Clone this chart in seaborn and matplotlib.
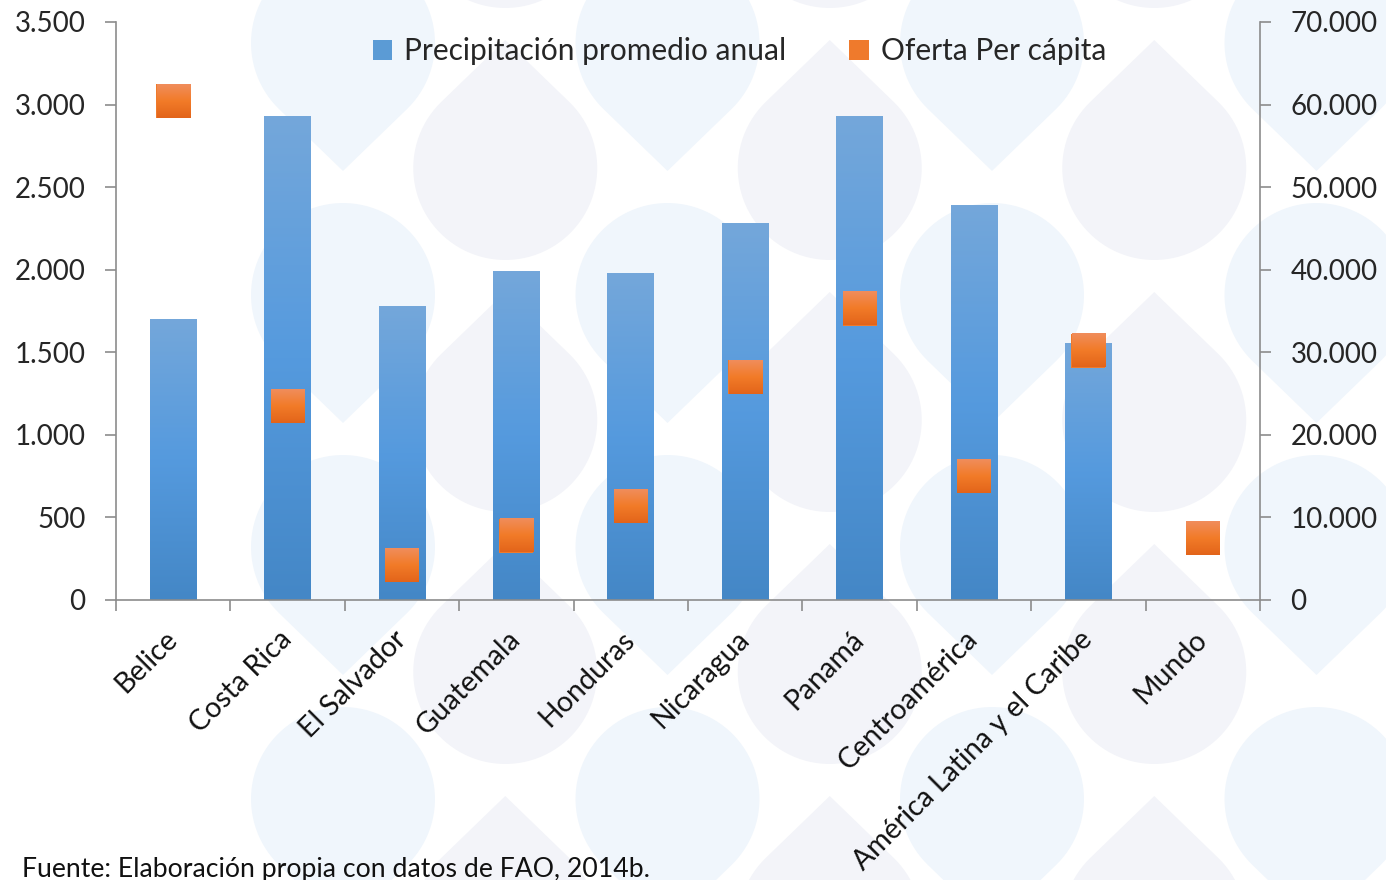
import numpy as np
import matplotlib
matplotlib.use("Agg")
import matplotlib.pyplot as plt
import matplotlib.transforms as mtransforms
import seaborn as sns
import pandas as pd
from matplotlib.colors import LinearSegmentedColormap
from matplotlib.patches import Patch, Polygon

categories = ["Belice", "Costa Rica", "El Salvador", "Guatemala", "Honduras",
              "Nicaragua", "Panamá", "Centroamérica", "América Latina y el Caribe", "Mundo"]
precipitacion = [1700, 2925, 1780, 1990, 1975, 2280, 2925, 2390, 1556, np.nan]
oferta = [60400, 23500, 4200, 7800, 11350, 27000, 35300, 15000, 30200, 7500]
left_ticks = [0, 500, 1000, 1500, 2000, 2500, 3000, 3500]
right_ticks = [0, 10000, 20000, 30000, 40000, 50000, 60000, 70000]

def fmt(v):
    return f"{v:,}".replace(",", ".")

sns.set_theme(style="white")
plt.rcParams["font.family"] = ["Lato", "DejaVu Sans"]
FS = 20
GRAY = "#8c8c8c"
W, H = 1386, 880

df = pd.DataFrame({"cat": categories, "prec": precipitacion, "ofe": oferta})

fig = plt.figure(figsize=(W / 100, H / 100), dpi=100)

# ---- faint water-drop watermark background (decorative lattice) ----
def droplet(cx, cy_img, r, d, up, color):
    cyd = H - cy_img
    phi = np.degrees(np.arccos(r / d))
    base = 90 if up else 270
    ang = np.radians(np.linspace(base + phi, base + 360 - phi, 80))
    pts = [(cx + d * np.cos(np.radians(base)), cyd + d * np.sin(np.radians(base)))]
    pts += list(zip(cx + r * np.cos(ang), cyd + r * np.sin(ang)))
    pts = np.array(pts) / 100.0
    poly = Polygon(pts, closed=True, facecolor=color, edgecolor="none",
                   transform=fig.dpi_scale_trans, zorder=-5)
    fig.add_artist(poly)

R, D, PER_Y, PER_X = 92, 128, 252, 324.5
for k in range(1, 5):
    bx = 18.5 + k * PER_X          # columns of downward drops
    gx = bx + PER_X / 2            # columns of upward drops
    for j in range(-1, 5):
        droplet(bx, 171 + j * PER_Y - D, R, D, up=False, color="#f0f6fc")
        if gx < W + R:
            droplet(gx, 40 + j * PER_Y + D, R, D, up=True, color="#f3f4f9")

ax = fig.add_axes([116 / W, 1 - 600 / H, (1260 - 116) / W, (600 - 22) / H])
ax.set_facecolor("none")

sns.barplot(data=df, x="cat", y="prec", ax=ax, color="#5b9bd5", width=0.41,
            saturation=1, zorder=2)
ax.set_xlim(-0.5, 9.5)
ax.set_ylim(0, 3500)

blue_cmap = LinearSegmentedColormap.from_list("b", ["#4487c6", "#559ade", "#74a7da"])
grad = np.linspace(0, 1, 256).reshape(-1, 1)
for p in ax.patches:
    h = p.get_height()
    if not np.isfinite(h) or h <= 0:
        continue
    x0 = p.get_x(); w = p.get_width()
    ax.imshow(grad, extent=[x0, x0 + w, 0, h], origin="lower", aspect="auto",
              cmap=blue_cmap, zorder=2.1, interpolation="bilinear")
    p.set_facecolor("none"); p.set_edgecolor("none")
ax.set_xlim(-0.5, 9.5)
ax.set_ylim(0, 3500)

ax2 = ax.twinx()
ax2.set_facecolor("none")
MS = 24
sns.scatterplot(x=np.arange(len(categories)), y=oferta, ax=ax2, marker="s",
                s=MS ** 2, color="#ef7a2c", linewidth=0, zorder=3, legend=False)
ax2.set_ylim(0, 70000)
ax2.set_xlim(-0.5, 9.5)

fig.canvas.draw()
half = MS / 2 * fig.dpi / 72
orange_cmap = LinearSegmentedColormap.from_list("o", ["#e2641a", "#f27b28", "#f08d5c"])
inv = ax2.transData.inverted()
for i, v in enumerate(oferta):
    cx, cy = ax2.transData.transform((i, v))
    (x0, y0) = inv.transform((cx - half, cy - half))
    (x1, y1) = inv.transform((cx + half, cy + half))
    ax2.imshow(grad, extent=[x0, x1, y0, y1], origin="lower", aspect="auto",
               cmap=orange_cmap, zorder=4, interpolation="bilinear")
ax2.set_ylim(0, 70000)
ax2.set_xlim(-0.5, 9.5)

# ticks
ax.set_yticks(left_ticks)
ax.set_yticklabels([fmt(t) for t in left_ticks], fontsize=FS)
ax2.set_yticks(right_ticks)
ax2.set_yticklabels([fmt(t) for t in right_ticks], fontsize=FS)
ax.set_xticks(np.arange(-0.5, 10, 1))
ax.set_xticklabels([])
# category labels, rotated, positioned under each category centre
lab_tr = ax.get_xaxis_transform() + mtransforms.ScaledTranslation(
    9 / 100, -26 / 100, fig.dpi_scale_trans)
for i, c in enumerate(categories):
    ax.text(i, 0, c, transform=lab_tr, rotation=45, ha="right", va="top",
            fontsize=20.5, color="#111111", clip_on=False)
ax.tick_params(axis="x", which="major", direction="out", length=8, width=1.2,
               color=GRAY, bottom=True)
ax.tick_params(axis="y", which="major", direction="out", length=8, width=1.2,
               color=GRAY, pad=14, left=True)
ax2.tick_params(axis="y", which="major", direction="out", length=8, width=1.2,
                color=GRAY, pad=14, right=True)
ax.set_xlabel(""); ax.set_ylabel(""); ax2.set_ylabel("")

for a in (ax, ax2):
    for s in a.spines.values():
        s.set_color(GRAY); s.set_linewidth(1.2)
    a.spines["top"].set_visible(False)
ax.spines["right"].set_visible(False)
ax2.spines["left"].set_visible(False)
ax2.spines["bottom"].set_visible(False)

handles = [Patch(facecolor="#5b9bd5", edgecolor="none"),
           Patch(facecolor="#ef7a2c", edgecolor="none")]
ax2.legend(handles, ["Precipitación promedio anual", "Oferta Per cápita"],
           loc="upper center", bbox_to_anchor=(0.545, 1.02), ncol=2, frameon=False,
           fontsize=21.5, handlelength=0.65, handleheight=0.65, handletextpad=0.4,
           columnspacing=2.1)

fig.text(22 / W, 3 / H, "Fuente: Elaboración propia con datos de FAO, 2014b.",
         fontsize=19.2, va="baseline", ha="left", color="#111111")

fig.savefig("out.png", dpi=100, facecolor="white")
